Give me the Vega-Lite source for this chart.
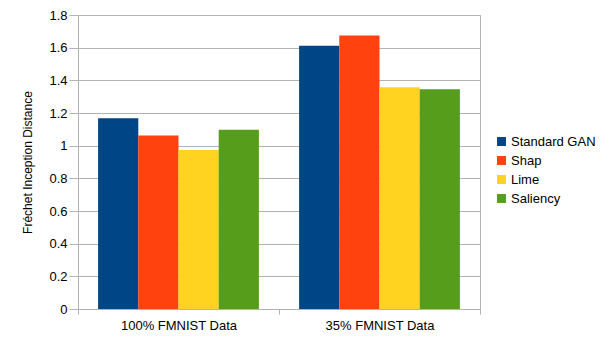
{
  "$schema": "https://vega.github.io/schema/vega-lite/v6.json",
  "width": 402,
  "height": 294,
  "autosize": "none",
  "padding": {"left": 78, "top": 15, "right": 125, "bottom": 31},
  "config": {
    "font": "Liberation Sans",
    "view": {"stroke": "#b3b3b3", "strokeWidth": 1},
    "axis": {"labelColor": "#000000", "titleColor": "#000000", "labelFontSize": 13, "gridColor": "#b3b3b3", "tickColor": "#b3b3b3", "domainColor": "#b3b3b3"}
  },
  "data": {
    "values": [
      {"dataset": "100% FMNIST Data", "method": "Standard GAN", "fid": 1.168},
      {"dataset": "100% FMNIST Data", "method": "Shap", "fid": 1.063},
      {"dataset": "100% FMNIST Data", "method": "Lime", "fid": 0.973},
      {"dataset": "100% FMNIST Data", "method": "Saliency", "fid": 1.097},
      {"dataset": "35% FMNIST Data", "method": "Standard GAN", "fid": 1.611},
      {"dataset": "35% FMNIST Data", "method": "Shap", "fid": 1.675},
      {"dataset": "35% FMNIST Data", "method": "Lime", "fid": 1.357},
      {"dataset": "35% FMNIST Data", "method": "Saliency", "fid": 1.346}
    ]
  },
  "mark": {"type": "bar"},
  "encoding": {
    "x": {
      "field": "dataset", "type": "nominal", "sort": null,
      "scale": {"paddingInner": 0, "paddingOuter": 0},
      "axis": {"title": null, "labelAngle": 0, "tickBand": "extent", "tickSize": 5, "labelPadding": 5, "labelFontSize": 13, "domain": true, "grid": false}
    },
    "xOffset": {
      "field": "method", "type": "nominal", "sort": ["Standard GAN", "Shap", "Lime", "Saliency"],
      "scale": {"paddingInner": 0, "paddingOuter": 0.5}
    },
    "y": {
      "field": "fid", "type": "quantitative",
      "scale": {"domain": [0, 1.8], "nice": false},
      "axis": {"title": "Fréchet Inception Distance", "titleFontSize": 12, "titleFontWeight": "normal", "titlePadding": 14, "values": [0, 0.2, 0.4, 0.6, 0.8, 1, 1.2, 1.4, 1.6, 1.8], "format": "~f", "tickSize": 9, "labelPadding": 2, "domain": false, "grid": true}
    },
    "color": {
      "field": "method", "type": "nominal", "sort": ["Standard GAN", "Shap", "Lime", "Saliency"],
      "scale": {"domain": ["Standard GAN", "Shap", "Lime", "Saliency"], "range": ["#004586", "#ff420e", "#ffd320", "#579d1c"]},
      "legend": {"title": null, "orient": "none", "legendX": 417, "legendY": 120, "symbolType": "square", "symbolSize": 80, "symbolStrokeWidth": 0, "labelFontSize": 13, "labelColor": "#000000", "rowPadding": 5, "labelOffset": 3}
    }
  }
}
